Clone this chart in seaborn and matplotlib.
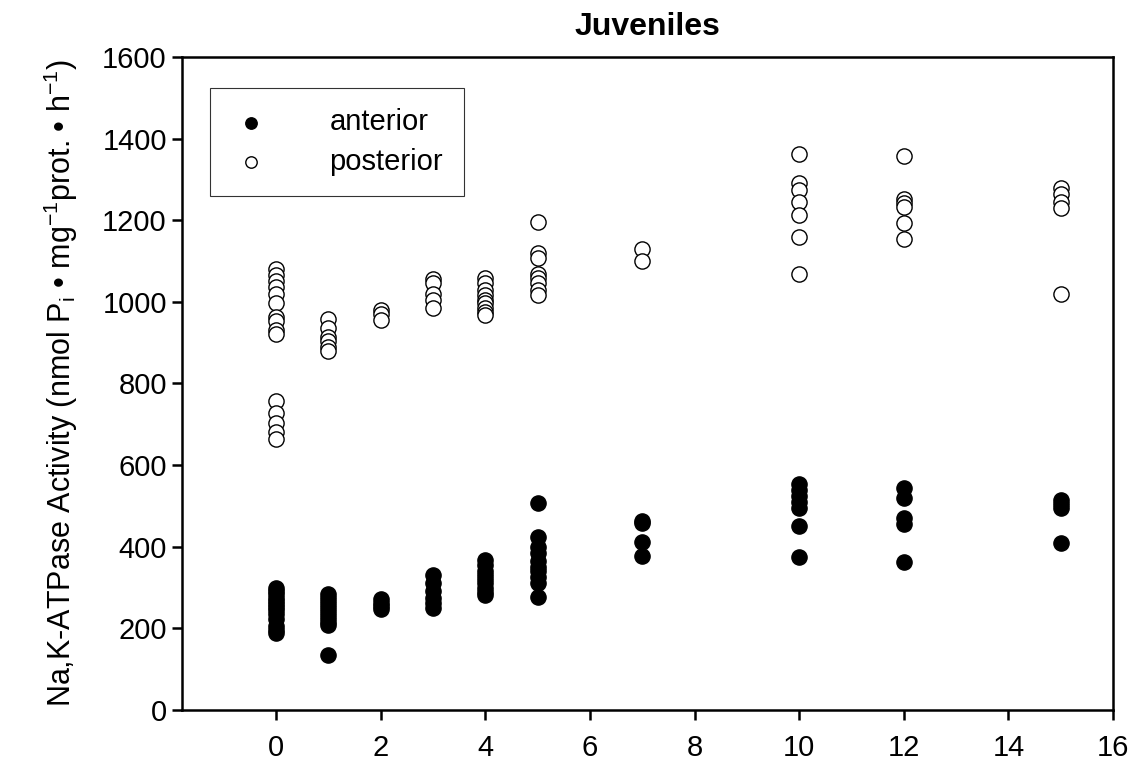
import pandas as pd
import matplotlib
matplotlib.use("Agg")
import matplotlib.pyplot as plt
import seaborn as sns

sns.set_style("ticks")
plt.rcParams["font.family"] = ["Liberation Sans", "DejaVu Sans"]
plt.rcParams["mathtext.fontset"] = "custom"
plt.rcParams["mathtext.rm"] = "Liberation Sans"
plt.rcParams["mathtext.it"] = "Liberation Sans:italic"
plt.rcParams["text.color"] = "black"
plt.rcParams["axes.labelcolor"] = "black"

# ---------------------------------------------------------------
# Data (time vs Na,K-ATPase activity)
# ---------------------------------------------------------------
anterior = {
    0: [300, 292, 285, 275, 268, 260, 252, 245, 235, 222, 205, 195, 188],
    1: [285, 275, 265, 255, 245, 235, 225, 215, 208, 135],
    2: [272, 262, 255, 248],
    3: [330, 312, 292, 275, 262, 250],
    4: [368, 355, 340, 330, 320, 312, 300, 290, 283],
    5: [508, 425, 400, 385, 365, 350, 340, 325, 310, 278],
    7: [463, 458, 412, 377],
    10: [553, 540, 525, 510, 495, 450, 375],
    12: [545, 520, 470, 455, 362],
    15: [515, 505, 495, 408],
}
posterior = {
    0: [1080, 1066, 1050, 1036, 1020, 998, 964, 952, 931, 922,
        757, 728, 703, 682, 663],
    1: [958, 935, 915, 905, 890, 880],
    2: [980, 970, 955],
    3: [1055, 1045, 1020, 1005, 985],
    4: [1058, 1045, 1030, 1018, 1005, 997, 985, 975, 967],
    5: [1195, 1120, 1108, 1068, 1058, 1045, 1030, 1018],
    7: [1130, 1100],
    10: [1362, 1292, 1275, 1245, 1212, 1158, 1068],
    12: [1358, 1252, 1242, 1232, 1192, 1155],
    15: [1280, 1265, 1245, 1230, 1020],
}
x_ticks = [0, 2, 4, 6, 8, 10, 12, 14, 16]
y_ticks = [0, 200, 400, 600, 800, 1000, 1200, 1400, 1600]


def to_long(d, name):
    rows = [(t, v, name) for t, vals in d.items() for v in vals]
    return pd.DataFrame(rows, columns=["time", "activity", "region"])


ant_df = to_long(anterior, "anterior")
post_df = to_long(posterior, "posterior")

fig = plt.figure(figsize=(11.42, 7.72), dpi=100)
ax = fig.add_axes([0.1594, 0.0803, 0.8152, 0.8459])

sns.scatterplot(data=ant_df, x="time", y="activity", ax=ax, s=120,
                color="black", edgecolor="black", linewidth=1, label="anterior")
sns.scatterplot(data=post_df, x="time", y="activity", ax=ax, s=120,
                color="white", edgecolor="black", linewidth=1, label="posterior")

ax.set_xlim(-1.8, 16)
ax.set_ylim(0, 1600)
ax.set_xticks(x_ticks)
ax.set_yticks(y_ticks)
ax.set_xlabel("")
ax.set_ylabel(r"Na,K-ATPase Activity (nmol P$_\mathregular{i}$ • mg$^\mathregular{-1}$"
              r"prot. • h$^\mathregular{-1}$)", fontsize=22, labelpad=16)
ax.set_title("Juveniles", fontsize=23, fontweight="bold", pad=16, color="black")

for sp in ax.spines.values():
    sp.set_visible(True)
    sp.set_linewidth(1.8)
    sp.set_color("black")
ax.tick_params(axis="both", direction="out", length=7, width=1.8,
               labelsize=21, colors="black")
ax.tick_params(axis="x", pad=10)
ax.tick_params(axis="y", pad=4)

leg = ax.legend(loc="upper left", bbox_to_anchor=(0.03, 0.9525), frameon=True,
                fancybox=False, edgecolor="black", fontsize=21, markerscale=0.75,
                borderpad=0.7, handlelength=1.4, handletextpad=2.0,
                labelspacing=0.4, borderaxespad=0)
leg.get_frame().set_linewidth(0.8)

fig.savefig("out.png", dpi=100, facecolor="white")
